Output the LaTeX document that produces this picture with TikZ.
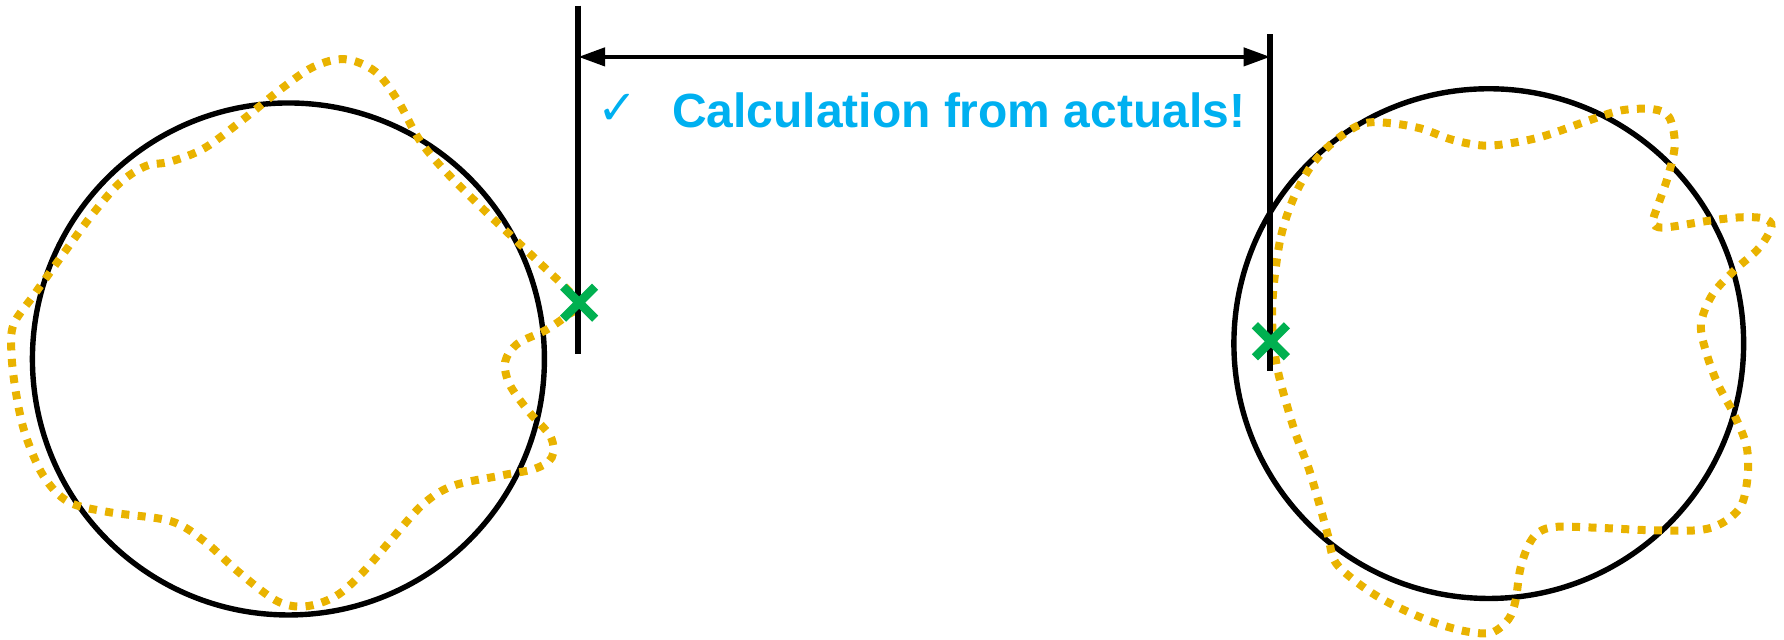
\documentclass[tikz,border=0pt]{standalone}
\usepackage{fontspec}
\usepackage{tikz}
\usetikzlibrary{arrows.meta,shapes.misc}
\setsansfont{Liberation Sans}
\newfontfamily\notefont{Liberation Sans}
\newfontfamily\tickfont{DejaVu Sans}
\definecolor{cablue}{HTML}{00B0F0}
\definecolor{cagreen}{HTML}{00B050}
\definecolor{cagold}{HTML}{E9B300}

\begin{document}
\begin{tikzpicture}[x=1cm, y=1cm,
  rim/.style={draw=black, line width=1.35pt},
  wave/.style={draw=cagold, line width=2pt, dash pattern=on 2pt off 2.1pt},
  gauge/.style={draw=black, line width=1.5pt},
  span/.style={{Triangle[length=6.7pt,width=4.5pt]}-{Triangle[length=6.7pt,width=4.5pt]}, line width=1.1pt},
  probe/.style={cross out, draw=cagreen, line width=2.2pt, minimum size=5.8pt, inner sep=0pt},
  note/.style={text=cablue, inner sep=0pt, font=\notefont\bfseries\fontsize{12}{14}\selectfont}
]
\useasboundingbox (0,0) rectangle (15.68,5.62);
% ================= nominal circles =================
\coordinate (cL) at (2.535,2.465);
\coordinate (cR) at (13.085,2.60);
\draw[rim] (cL) circle (2.25);
\draw[rim] (cR) circle (2.24);
% ================= actual profiles =================
\draw[wave] plot[smooth cycle, tension=0.55] coordinates {
  (5.09,2.96) (4.70,3.35) (4.30,3.73) (3.90,4.13) (3.68,4.40) (3.50,4.73)
  (3.30,4.99) (3.03,5.10) (2.75,5.03) (2.46,4.83) (2.15,4.58) (1.80,4.32)
  (1.50,4.20) (1.28,4.16) (1.05,4.01) (0.80,3.72) (0.55,3.38) (0.30,3.03)
  (0.12,2.77) (0.10,2.52) (0.14,2.17) (0.22,1.81) (0.38,1.44) (0.60,1.21)
  (0.95,1.12) (1.50,1.04) (1.80,0.86) (2.10,0.59) (2.43,0.34) (2.68,0.29)
  (2.95,0.38) (3.18,0.58) (3.45,0.89) (3.72,1.19) (3.98,1.35) (4.40,1.44)
  (4.70,1.50) (4.85,1.60) (4.84,1.78) (4.65,2.00) (4.48,2.24) (4.44,2.44)
  (4.55,2.60) (4.80,2.72) (5.00,2.86)};
\draw[wave] plot[smooth cycle, tension=0.55] coordinates {
  (11.20,3.16) (11.26,3.55) (11.37,3.88) (11.53,4.17) (11.73,4.38) (11.97,4.53)
  (12.20,4.54) (12.49,4.49) (12.77,4.39) (13.05,4.34) (13.33,4.37) (13.59,4.43)
  (13.96,4.56) (14.25,4.65) (14.53,4.66) (14.67,4.59) (14.72,4.35) (14.66,4.07)
  (14.57,3.81) (14.53,3.67) (14.62,3.62) (15.02,3.68) (15.30,3.71) (15.50,3.70)
  (15.57,3.63) (15.46,3.44) (15.24,3.24) (15.05,3.03) (14.95,2.77) (15.00,2.51)
  (15.10,2.24) (15.24,1.98) (15.35,1.70) (15.36,1.43) (15.30,1.17) (15.13,1.02)
  (14.92,0.96) (14.50,0.96) (14.07,0.98) (13.68,0.99) (13.52,0.94) (13.43,0.82)
  (13.36,0.61) (13.32,0.34) (13.26,0.18) (13.11,0.06) (12.89,0.07) (12.63,0.14)
  (12.38,0.24) (12.12,0.37) (11.89,0.53) (11.73,0.69) (11.67,0.92) (11.59,1.21)
  (11.50,1.51) (11.39,1.80) (11.31,2.06) (11.24,2.32) (11.20,2.55) (11.18,2.84)};
% ================= gauge lines and span =================
\coordinate (gLtop) at (5.083,5.57);
\coordinate (gLbot) at (5.083,2.51);
\coordinate (gRtop) at (11.165,5.32);
\coordinate (gRbot) at (11.165,2.36);
\draw[gauge] (gLtop) -- (gLbot);
\draw[gauge] (gRtop) -- (gRbot);
\coordinate (spanL) at (5.083,5.12);
\coordinate (spanR) at (11.165,5.12);
\draw[span] (spanL) -- (spanR);
% ================= contact points =================
\node[probe] (pL) at (5.09,2.96) {};
\node[probe] (pR) at (11.17,2.62) {};
% ================= label =================
\node[text=cablue, inner sep=0pt, font=\tickfont\fontsize{12}{14}\selectfont] (tick) at (5.43,4.66) {✓};
\node[note, anchor=base west] (calc) at (5.90,4.50) {Calculation from actuals!};
\end{tikzpicture}
\end{document}
